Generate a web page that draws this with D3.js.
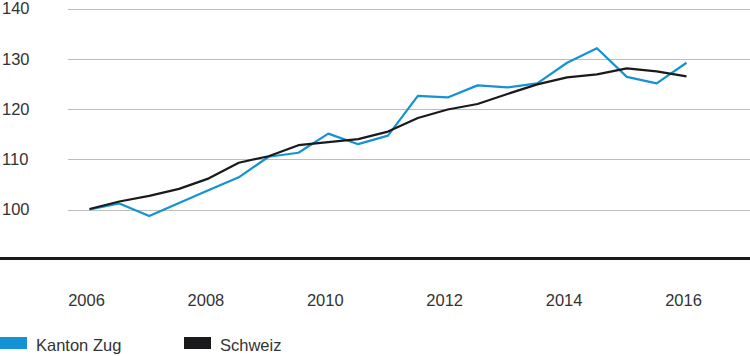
<!DOCTYPE html>
<html>
<head>
<meta charset="utf-8">
<script src="https://cdn.jsdelivr.net/npm/d3@7"></script>
<style>
  html, body { margin: 0; padding: 0; background: #fff; }
  svg { display: block; }
  text { font-family: "Liberation Sans", Arial, sans-serif; fill: #333; }
</style>
</head>
<body>
<svg id="chart" width="750" height="356"></svg>
<script>
// Data (half-year steps, 2006 to 2016)
const periods = [2006, 2006.5, 2007, 2007.5, 2008, 2008.5, 2009, 2009.5, 2010, 2010.5,
                 2011, 2011.5, 2012, 2012.5, 2013, 2013.5, 2014, 2014.5, 2015, 2015.5, 2016];
const kantonZug = [100.0, 101.2, 98.7, 101.3, 103.9, 106.4, 110.5, 111.3, 115.1, 113.0,
                   114.7, 122.6, 122.3, 124.7, 124.3, 125.1, 129.2, 132.1, 126.4, 125.1, 129.2];
const schweiz = [100.1, 101.6, 102.7, 104.1, 106.2, 109.3, 110.6, 112.8, 113.4, 114.0,
                 115.5, 118.2, 119.9, 121.0, 123.0, 124.9, 126.3, 126.9, 128.1, 127.5, 126.5];
const yTicks = [100, 110, 120, 130, 140];
const xTicks = [2006, 2008, 2010, 2012, 2014, 2016];
const seriesNames = ["Kanton Zug", "Schweiz"];
const seriesColors = ["#1393d3", "#1a1a1d"];

const svg = d3.select("#chart");
const x = d3.scaleLinear().domain([2006, 2016]).range([89.5, 686.5]);
const y = d3.scaleLinear().domain([100, 140]).range([209.5, 8.5]);

// gridlines
svg.append("g").selectAll("line").data(yTicks).join("line")
  .attr("x1", 68).attr("x2", 750)
  .attr("y1", d => Math.round(y(d)) + 0.5).attr("y2", d => Math.round(y(d)) + 0.5)
  .attr("stroke", "#bdbdbd").attr("stroke-width", 1);

// y labels
svg.append("g").selectAll("text").data(yTicks).join("text")
  .attr("x", 2).attr("y", d => y(d))
  .attr("dy", "0.35em")
  .attr("font-size", 16.5)
  .text(d => d);

// thick baseline
svg.append("line").attr("x1", 0).attr("x2", 750)
  .attr("y1", 258.5).attr("y2", 258.5)
  .attr("stroke", "#1a1a1a").attr("stroke-width", 3);

// x labels
svg.append("g").selectAll("text").data(xTicks).join("text")
  .attr("x", d => x(d) - 3).attr("y", 306)
  .attr("text-anchor", "middle")
  .attr("font-size", 16.5)
  .text(d => d);

// lines
const line = d3.line().x((d, i) => x(periods[i])).y(d => y(d));
[kantonZug, schweiz].forEach((s, k) => {
  svg.append("path").datum(s)
    .attr("fill", "none")
    .attr("stroke", seriesColors[k])
    .attr("stroke-width", 2.2)
    .attr("stroke-linejoin", "round")
    .attr("d", line);
});
// put Kanton Zug above? Reference shows black on top in places; keep order.

// legend
const legendX = [0, 184];
seriesNames.forEach((n, k) => {
  const g = svg.append("g").attr("transform", `translate(${legendX[k]},0)`);
  g.append("rect").attr("x", 0).attr("y", 337).attr("width", 27).attr("height", 12)
    .attr("fill", seriesColors[k]);
  g.append("text").attr("x", 36).attr("y", 351).attr("font-size", 16.5).text(n);
});
</script>
</body>
</html>
